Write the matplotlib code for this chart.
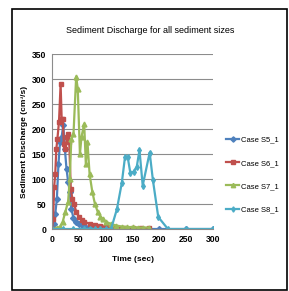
import matplotlib
matplotlib.use("Agg")
import matplotlib.pyplot as plt
from matplotlib.patches import Rectangle

plt.rcParams['font.family'] = ['Liberation Sans', 'DejaVu Sans']

# Daten
t_s5 = [0, 3, 6, 9, 12, 15, 18, 21, 24, 27, 30, 33, 36, 40, 45, 50, 55, 60, 70, 80, 90, 100, 150, 200, 250, 300]
q_s5 = [0, 10, 30, 60, 130, 175, 185, 208, 160, 120, 95, 75, 40, 22, 14, 10, 8, 6, 4, 3, 2, 1, 0, 0, 0, 0]

t_s6 = [0, 2, 4, 6, 8, 10, 13, 16, 18, 20, 22, 25, 28, 30, 32, 35, 38, 41, 45, 50, 55, 60, 70, 80, 90, 100, 110, 120, 135, 150, 165, 180]
q_s6 = [0, 20, 85, 110, 160, 180, 215, 290, 220, 220, 170, 160, 185, 190, 175, 80, 60, 50, 35, 25, 18, 15, 10, 8, 6, 5, 4, 3, 3, 3, 2, 2]

t_s7 = [0, 5, 10, 15, 20, 25, 30, 33, 36, 40, 45, 48, 52, 55, 60, 63, 66, 70, 75, 80, 85, 90, 95, 100, 110, 120, 130, 140, 150, 160, 170, 180]
q_s7 = [0, 0, 2, 5, 15, 35, 55, 100, 180, 190, 305, 280, 150, 185, 210, 130, 175, 110, 75, 50, 35, 25, 20, 15, 10, 7, 5, 4, 4, 3, 3, 3]

t_s8 = [0, 20, 40, 60, 70, 80, 90, 100, 110, 121, 130, 136, 141, 146, 152, 158, 163, 169, 182, 188, 198, 216, 250, 300]
q_s8 = [0, 0, 0, 0, 0, 0, 0, 0, 0, 40, 92, 144, 144, 112, 115, 125, 158, 87, 153, 98, 24, 0, 0, 0]

labels = ['Case S5_1', 'Case S6_1', 'Case S7_1', 'Case S8_1']

fig = plt.figure(figsize=(2.89, 2.91), dpi=100)
ax = fig.add_axes([0.180, 0.213, 0.557, 0.601])

# Rahmen um das ganze Bild
fig.patches.append(Rectangle((0.042, 0.003), 0.951, 0.966, transform=fig.transFigure,
                             fill=False, edgecolor='black', linewidth=1.2))

ax.plot(t_s5, q_s5, color='#4F81BD', marker='D', markersize=3, linewidth=1.6, label=labels[0])
ax.plot(t_s6, q_s6, color='#C0504D', marker='s', markersize=3.5, linewidth=1.6, label=labels[1])
ax.plot(t_s7, q_s7, color='#9BBB59', marker='^', markersize=3.5, linewidth=1.6, label=labels[2])
ax.plot(t_s8, q_s8, color='#4BACC6', marker='d', markersize=3, linewidth=1.6, label=labels[3])

ax.set_xlim(0, 300)
ax.set_ylim(0, 350)
ax.set_xticks(range(0, 301, 50))
ax.set_yticks(range(0, 351, 50))
ax.grid(True, axis='y', color='#8c8c8c', linewidth=0.8)
ax.set_axisbelow(True)
for s in ['top', 'right']:
    ax.spines[s].set_visible(False)
ax.spines['left'].set_color('#8c8c8c')
ax.spines['bottom'].set_color('#8c8c8c')
ax.tick_params(length=0, labelsize=6.2, pad=4)
for lab in ax.get_xticklabels() + ax.get_yticklabels():
    lab.set_fontweight('bold')

fig.text(0.52, 0.895, 'Sediment Discharge for all sediment sizes', ha='center', va='center', fontsize=6.5)
ax.set_xlabel('Time (sec)', fontsize=6, fontweight='bold', labelpad=9)
ax.set_ylabel('Sediment Discharge (cm³/s)', fontsize=6, fontweight='bold', labelpad=3)

ax.legend(loc='center left', bbox_to_anchor=(1.06, 0.31), frameon=False, fontsize=5.5,
          labelspacing=2.1, handlelength=1.8, handletextpad=0.2, markerscale=0.9,
          borderaxespad=0.0)

fig.savefig('out.png', dpi=100)
